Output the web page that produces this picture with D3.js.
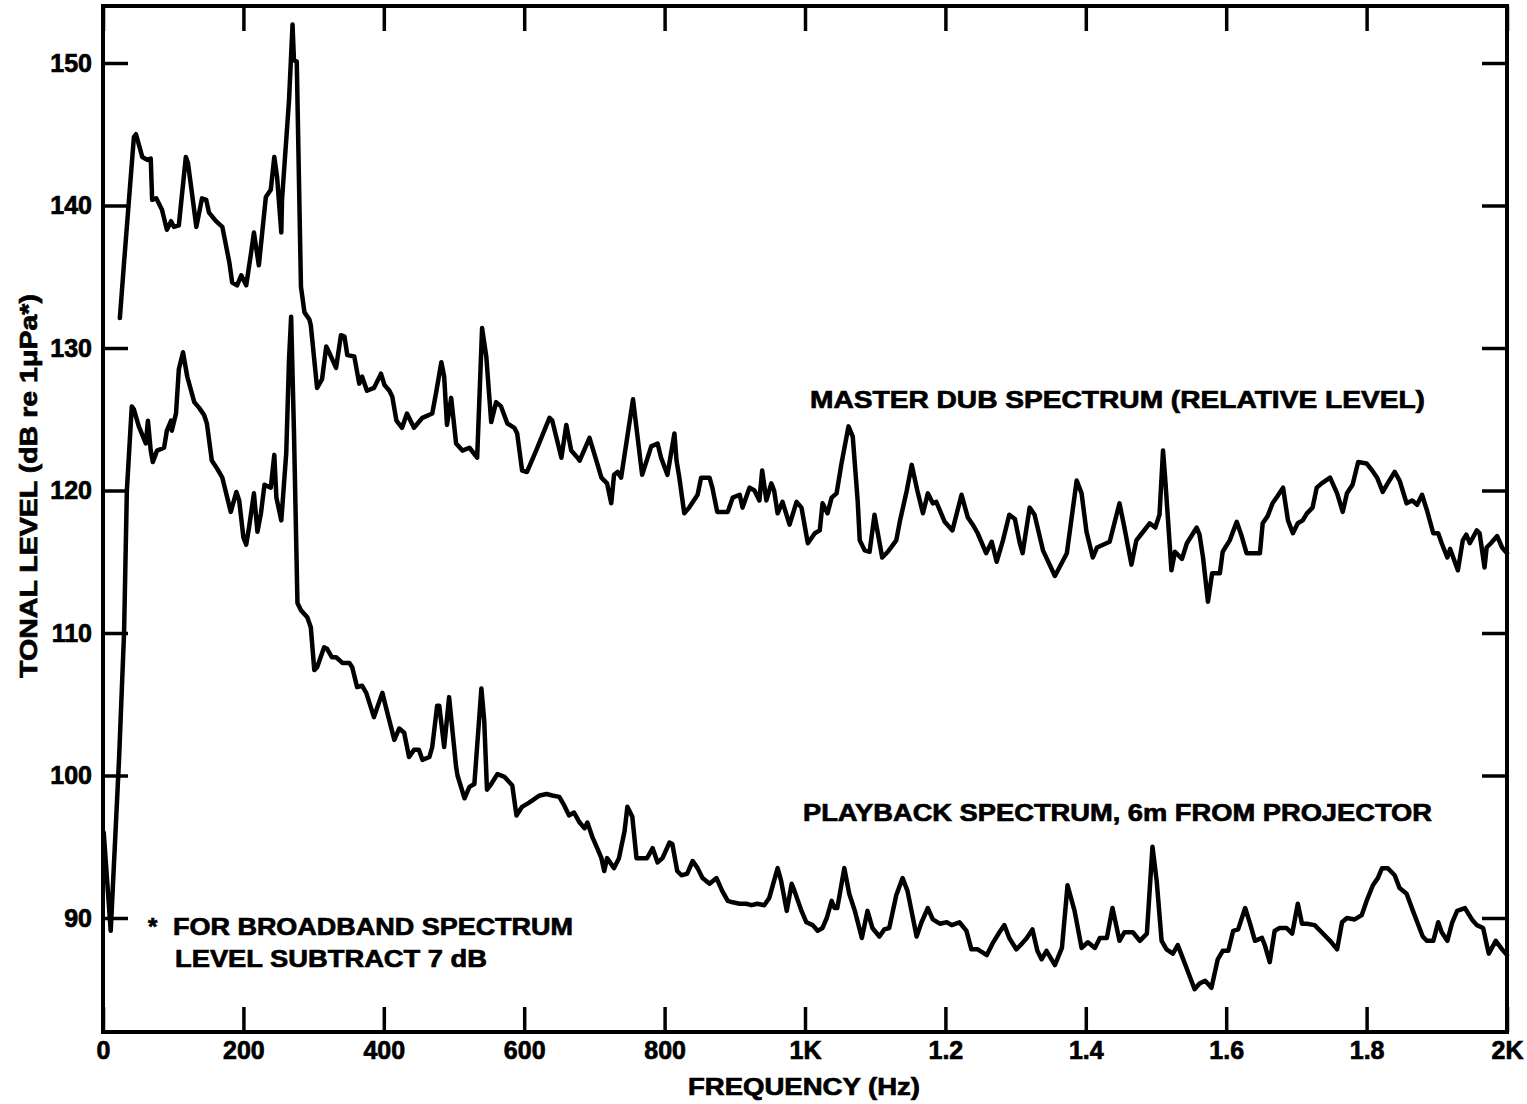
<!DOCTYPE html>
<html>
<head>
<meta charset="utf-8">
<script src="https://cdn.jsdelivr.net/npm/d3@7"></script>
<style>
    body { margin: 0; background: #fff; }
    svg text { font-family: "Liberation Sans", Arial, sans-serif; font-weight: bold; fill: #000; stroke: #000; stroke-width: 0.7px; }
</style>
</head>
<body>
<div id="graphWrapper"></div>
<script>
// frequency (Hz), tonal level (dB)
var masterDub = [
    [24,132.1],[30,136.0],[44,144.8],[47,145.0],[56,143.4],[63,143.2],[68,143.3],[70,140.4],[76,140.5],[84,139.7],
    [91,138.3],[97,138.9],[101,138.5],[108,138.6],[118,143.4],[121,143.0],[133,138.5],[141,140.5],[147,140.4],[151,139.5],
    [161,138.9],[170,138.5],[180,136.0],[184,134.6],[191,134.4],[197,135.1],[204,134.4],[211,136.7],[215,138.1],[222,135.8],
    [232,140.6],[239,141.1],[244,143.4],[248,142.0],[254,138.1],[255,140.4],[265,147.4],[270,152.7],[272,150.2],[276,150.1],
    [282,134.3],[287,132.5],[294,132.0],[296,131.6],[305,127.2],[312,127.8],[318,130.1],[322,129.7],[332,128.6],[339,130.9],
    [344,130.8],[348,129.5],[358,129.4],[365,127.5],[369,128.0],[376,127.0],[386,127.2],[396,128.2],[401,127.4],[408,127.0],
    [412,126.6],[418,124.9],[426,124.4],[433,125.4],[443,124.4],[455,125.1],[469,125.4],[475,127.0],[482,129.0],[486,128.0],
    [490,124.6],[496,126.5],[503,123.3],[512,122.8],[522,123.0],[533,122.3],[540,131.4],[546,129.4],[553,124.8],[560,126.2],
    [567,125.9],[576,124.7],[586,124.4],[590,124.0],[597,121.4],[604,121.3],[617,122.8],[636,125.1],[640,124.9],[653,122.3],
    [660,124.6],[667,122.8],[676,122.3],[679,122.1],[693,123.7],[704,121.9],[710,120.9],[718,120.5],[724,119.1],[728,121.1],
    [733,121.3],[738,120.9],[755,126.4],[768,121.1],[781,123.1],[790,123.3],[795,122.3],[804,121.1],[814,124.0],[817,122.1],
    [821,120.9],[828,118.4],[835,118.8],[847,119.7],[852,120.9],[864,120.9],[868,120.2],[875,118.5],[890,118.5],[897,119.5],
    [907,119.7],[911,118.8],[921,120.2],[928,120.0],[935,119.3],[939,121.4],[945,119.3],[952,120.5],[956,120.0],[961,118.4],
    [968,119.2],[978,117.6],[988,119.2],[995,118.8],[1004,116.3],[1014,117.0],[1021,117.2],[1025,119.1],[1032,118.4],[1038,119.5],
    [1045,119.8],[1052,121.9],[1062,124.5],[1068,123.8],[1075,119.3],[1078,116.5],[1085,115.8],[1092,115.7],[1099,118.3],[1103,117.2],
    [1110,115.3],[1118,115.7],[1130,116.5],[1135,117.8],[1145,120.0],[1152,121.8],[1160,120.0],[1168,118.4],[1175,119.8],[1182,119.1],
    [1187,119.2],[1199,117.8],[1210,117.2],[1223,119.7],[1232,118.1],[1239,117.6],[1246,117.0],[1258,115.6],[1266,116.4],[1273,115.0],
    [1282,116.5],[1291,118.3],[1299,118.0],[1306,116.3],[1310,115.6],[1320,118.8],[1327,118.3],[1339,115.8],[1356,114.0],[1373,115.6],
    [1387,120.7],[1394,119.8],[1401,117.1],[1410,115.3],[1416,116.0],[1434,116.4],[1448,119.1],[1455,117.4],[1465,114.8],[1472,116.5],
    [1480,117.0],[1491,117.7],[1499,117.4],[1505,118.3],[1510,122.8],[1513,120.9],[1522,114.4],[1527,115.7],[1537,115.2],[1544,116.3],
    [1558,117.4],[1562,116.9],[1567,115.3],[1574,112.2],[1580,114.2],[1591,114.2],[1595,115.7],[1605,116.5],[1615,117.8],[1622,116.8],
    [1629,115.6],[1648,115.6],[1652,117.7],[1659,118.2],[1666,119.1],[1673,119.6],[1681,120.2],[1688,117.9],[1695,117.0],[1702,117.7],
    [1709,117.9],[1715,118.4],[1723,118.8],[1729,120.2],[1736,120.5],[1748,120.9],[1758,119.8],[1766,118.5],[1772,119.8],[1780,120.4],
    [1788,122.0],[1800,121.9],[1808,121.4],[1815,120.9],[1823,119.9],[1830,120.5],[1840,121.3],[1847,120.7],[1857,119.1],[1865,119.3],
    [1872,119.0],[1879,119.7],[1886,118.6],[1895,117.0],[1902,117.0],[1907,116.3],[1915,115.3],[1919,115.9],[1930,114.4],[1937,116.5],
    [1942,116.9],[1947,116.3],[1957,117.2],[1961,117.0],[1968,114.6],[1971,116.0],[1977,116.3],[1986,116.8],[1993,116.0],[2000,115.6]
];

var playback = [
    [1,96.0],[11,89.1],[23,101.3],[30,110.0],[34,120.0],[41,125.9],[44,125.7],[51,124.5],[56,123.9],[61,123.3],
    [64,124.9],[68,122.8],[71,122.0],[77,122.8],[87,123.0],[91,124.2],[97,124.9],[98,124.2],[104,125.4],[108,128.5],
    [114,129.7],[120,128.0],[130,126.2],[137,125.8],[144,125.3],[148,124.7],[155,122.1],[163,121.5],[170,120.9],[177,119.5],
    [182,118.5],[190,119.9],[194,119.3],[200,116.7],[204,116.2],[208,117.4],[215,119.8],[220,117.1],[225,118.4],[230,120.4],
    [239,120.2],[244,122.5],[247,119.5],[254,117.9],[261,122.6],[265,129.2],[268,132.2],[272,124.2],[277,112.1],[282,111.6],
    [291,111.1],[296,110.4],[301,107.4],[305,107.6],[315,109.0],[319,108.9],[326,108.3],[332,108.3],[341,107.9],[351,107.9],
    [355,107.6],[362,106.2],[369,106.3],[375,105.8],[386,104.1],[398,105.8],[403,104.8],[415,102.5],[422,103.3],[429,103.0],
    [436,101.3],[443,101.8],[450,101.8],[455,101.1],[465,101.3],[469,102.0],[476,104.9],[479,104.9],[486,102.0],[493,105.5],
    [503,100.6],[505,100.0],[515,98.4],[522,99.2],[529,99.4],[539,106.1],[543,103.9],[547,99.0],[553,99.4],[562,100.1],
    [572,99.9],[583,99.3],[589,97.2],[597,97.8],[607,98.1],[622,98.6],[632,98.7],[640,98.6],[650,98.5],[657,97.9],
    [664,97.2],[671,97.4],[679,96.7],[686,96.3],[690,96.7],[697,95.7],[704,94.9],[710,94.2],[714,93.3],[718,94.2],
    [728,93.5],[735,94.2],[743,96.1],[747,97.8],[754,97.1],[760,94.2],[768,94.2],[775,94.2],[783,94.9],[790,93.9],
    [797,94.2],[807,95.3],[811,95.2],[818,93.3],[824,93.0],[832,93.1],[840,94.0],[847,93.5],[854,92.8],[864,92.4],
    [874,92.8],[882,91.9],[890,91.2],[897,91.1],[907,91.0],[916,91.0],[924,90.9],[932,91.0],[942,90.9],[949,91.4],
    [957,92.8],[961,93.5],[966,92.6],[974,90.5],[981,92.4],[985,91.9],[995,90.5],[1002,89.7],[1011,89.5],[1018,89.1],
    [1025,89.3],[1031,90.0],[1038,91.2],[1042,90.7],[1046,90.7],[1056,93.5],[1063,91.7],[1071,90.5],[1081,88.6],[1089,90.5],
    [1096,89.3],[1106,88.7],[1113,89.2],[1120,89.3],[1130,91.6],[1139,92.8],[1146,91.9],[1159,88.7],[1166,89.7],[1175,90.7],
    [1182,89.9],[1192,89.6],[1202,89.7],[1209,89.5],[1220,89.7],[1230,89.1],[1237,87.8],[1246,87.8],[1259,87.4],[1267,88.2],
    [1277,89.0],[1284,89.5],[1291,88.6],[1301,87.8],[1309,88.2],[1316,88.6],[1324,89.2],[1331,87.7],[1337,87.1],[1344,87.7],
    [1356,86.7],[1366,87.9],[1374,92.3],[1384,90.5],[1394,87.9],[1403,88.3],[1413,87.9],[1420,88.6],[1430,88.6],[1438,90.7],
    [1448,88.4],[1455,89.0],[1467,89.0],[1477,88.4],[1487,88.9],[1495,95.0],[1501,92.6],[1508,88.4],[1515,87.8],[1524,87.5],
    [1531,88.1],[1538,87.2],[1545,86.3],[1555,85.0],[1562,85.4],[1570,85.6],[1579,85.1],[1588,87.1],[1595,87.7],[1603,87.7],
    [1610,89.1],[1617,89.2],[1627,90.7],[1634,89.6],[1641,88.4],[1651,88.6],[1655,88.1],[1662,86.9],[1669,89.1],[1676,89.3],
    [1686,89.3],[1694,88.9],[1702,91.0],[1708,89.6],[1715,89.6],[1726,89.5],[1736,89.0],[1748,88.4],[1758,87.8],[1765,89.7],
    [1772,90.0],[1783,89.9],[1793,90.2],[1800,91.2],[1809,92.3],[1816,92.8],[1822,93.5],[1830,93.5],[1840,93.0],[1847,92.1],
    [1857,91.7],[1866,90.5],[1873,89.6],[1880,88.7],[1886,88.4],[1895,88.4],[1902,89.7],[1907,89.0],[1915,88.4],[1922,89.7],
    [1929,90.5],[1940,90.7],[1950,89.9],[1957,89.5],[1966,89.3],[1974,87.5],[1984,88.4],[1993,87.8],[2000,87.4]
];

var xTicks = [0, 200, 400, 600, 800, 1000, 1200, 1400, 1600, 1800, 2000];
var xTickLabels = ["0", "200", "400", "600", "800", "1K", "1.2", "1.4", "1.6", "1.8", "2K"];
var yTicks = [90, 100, 110, 120, 130, 140, 150];

var w = 1527;
var h = 1104;
var margin = {
    top: 6,
    bottom: 72,
    left: 103,
    right: 20
};
var width = w - margin.left - margin.right;
var height = h - margin.top - margin.bottom;

var svg = d3.select("#graphWrapper").append("svg")
    .attr("width", w)
    .attr("height", h);
var chart = svg.append("g")
    .attr("transform", "translate(" + margin.left + "," + margin.top + ")");

var x = d3.scaleLinear()
    .domain([0, 2000])
    .range([0, width]);
var y = d3.scaleLinear()
    .domain([82, 154])
    .range([height, 0]);

var tick = 25;
var xAxis = d3.axisBottom(x)
    .tickValues(xTicks)
    .tickFormat(function(d, i){ return xTickLabels[i]; })
    .tickSize(-tick)
    .tickPadding(9);
var xAxisTop = d3.axisTop(x)
    .tickValues(xTicks)
    .tickFormat("")
    .tickSize(-tick);
var yAxis = d3.axisLeft(y)
    .tickValues(yTicks)
    .tickSize(-tick)
    .tickPadding(11);
var yAxisRight = d3.axisRight(y)
    .tickValues(yTicks)
    .tickFormat("")
    .tickSize(-tick);

function styleAxis(g){
    g.select(".domain").remove();
    g.selectAll(".tick line").attr("stroke", "#000").attr("stroke-width", 3.5);
    g.selectAll(".tick text").style("font-size", "25px").style("font-family", null);
}

chart.append("g")
    .attr("transform", "translate(0," + height + ")")
    .call(xAxis)
    .call(styleAxis);
chart.append("g")
    .call(xAxisTop)
    .call(styleAxis);
chart.append("g")
    .call(yAxis)
    .call(styleAxis);
chart.append("g")
    .attr("transform", "translate(" + width + ",0)")
    .call(yAxisRight)
    .call(styleAxis);

// frame
chart.append("rect")
    .attr("width", width)
    .attr("height", height)
    .attr("fill", "none")
    .attr("stroke", "#000")
    .attr("stroke-width", 4);

var line = d3.line()
    .x(function(d){ return x(d[0]); })
    .y(function(d){ return y(d[1]); });

chart.selectAll(".trendline")
    .data([masterDub, playback])
    .enter()
    .append("path")
    .classed("trendline", true)
    .attr("d", line)
    .attr("fill", "none")
    .attr("stroke", "#000")
    .attr("stroke-width", 4.5)
    .attr("stroke-linejoin", "round")
    .attr("stroke-linecap", "round");

// labels
svg.append("text")
    .attr("x", 810).attr("y", 408)
    .attr("textLength", 615).attr("lengthAdjust", "spacingAndGlyphs")
    .style("font-size", "24px")
    .text("MASTER DUB SPECTRUM (RELATIVE LEVEL)");
svg.append("text")
    .attr("x", 803).attr("y", 821)
    .attr("textLength", 629).attr("lengthAdjust", "spacingAndGlyphs")
    .style("font-size", "24px")
    .text("PLAYBACK SPECTRUM, 6m FROM PROJECTOR");
svg.append("text")
    .attr("x", 148).attr("y", 935)
    .style("font-size", "24px")
    .text("*");
svg.append("text")
    .attr("x", 173).attr("y", 935)
    .attr("textLength", 400).attr("lengthAdjust", "spacingAndGlyphs")
    .style("font-size", "24px")
    .text("FOR BROADBAND SPECTRUM");
svg.append("text")
    .attr("x", 175).attr("y", 967)
    .attr("textLength", 312).attr("lengthAdjust", "spacingAndGlyphs")
    .style("font-size", "24px")
    .text("LEVEL SUBTRACT 7 dB");

//x label
svg.append("text")
    .attr("x", 804).attr("y", 1095)
    .attr("text-anchor", "middle")
    .attr("textLength", 232).attr("lengthAdjust", "spacingAndGlyphs")
    .style("font-size", "24px")
    .text("FREQUENCY (Hz)");
//y label
svg.append("text")
    .attr("transform", "translate(37,486) rotate(-90)")
    .attr("text-anchor", "middle")
    .attr("textLength", 384).attr("lengthAdjust", "spacingAndGlyphs")
    .style("font-size", "24px")
    .text("TONAL LEVEL (dB re 1μPa*)");
</script>
</body>
</html>
